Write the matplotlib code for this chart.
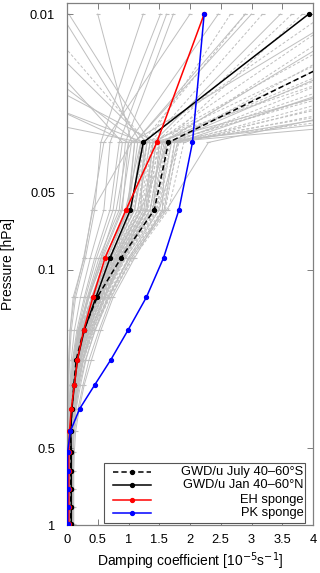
import matplotlib
matplotlib.use("Agg")
import matplotlib.pyplot as plt
from matplotlib.lines import Line2D
from matplotlib.patches import Rectangle
import matplotlib.ticker as mticker

plt.rcParams['font.family'] = ['Liberation Sans', 'DejaVu Sans']

# pressure levels [hPa]
levels = [0.01, 0.0318, 0.0584, 0.090, 0.1285, 0.173, 0.225, 0.283, 0.351,
          0.43, 0.516, 0.614, 0.724, 0.847, 0.99]

gwd_july = [5.9, 1.65, 1.42, 0.88, 0.49, 0.27, 0.15, 0.11, 0.08, 0.06, 0.06, 0.06, 0.06, 0.06, 0.06]
gwd_jan = [3.93, 1.24, 1.03, 0.70, 0.47, 0.28, 0.17, 0.12, 0.08, 0.06, 0.07, 0.07, 0.07, 0.07, 0.07]
eh_sponge = [2.23, 1.46, 0.96, 0.62, 0.42, 0.27, 0.17, 0.12, 0.07, 0.04, 0.03, 0.03, 0.03, 0.03, 0.03]
pk_sponge = [2.23, 2.04, 1.82, 1.57, 1.29, 0.99, 0.715, 0.45, 0.205, 0.054, 0.01, 0.01, 0.01, 0.01, 0.01]

gray_solid = [
    [-0.1, 1.20, 0.95, 0.62, 0.40, 0.24, 0.15, 0.10, 0.07, 0.05, 0.05, 0.05, 0.05, 0.05, 0.05],
    [-0.8, 1.30, 1.10, 0.72, 0.46, 0.30, 0.18, 0.12, 0.08, 0.06, 0.05, 0.05, 0.06, 0.06, 0.06],
    [-1.6, 1.15, 1.00, 0.66, 0.44, 0.26, 0.16, 0.11, 0.07, 0.05, 0.04, 0.04, 0.04, 0.05, 0.05],
    [-4.2, 1.25, 1.20, 0.80, 0.52, 0.33, 0.21, 0.14, 0.09, 0.07, 0.06, 0.06, 0.06, 0.07, 0.07],
    [-9.0, 1.20, 1.05, 0.70, 0.47, 0.29, 0.19, 0.13, 0.09, 0.06, 0.05, 0.05, 0.05, 0.05, 0.05],
    [0.03, 1.35, 1.15, 0.75, 0.50, 0.31, 0.20, 0.14, 0.10, 0.07, 0.06, 0.06, 0.06, 0.06, 0.06],
    [1.24, 0.55, 0.45, 0.30, 0.14, 0.07, 0.04, 0.03, 0.02, 0.02, 0.02, 0.02, 0.02, 0.02, 0.02],
    [1.52, 0.70, 0.60, 0.38, 0.22, 0.12, 0.07, 0.05, 0.03, 0.03, 0.03, 0.03, 0.03, 0.03, 0.03],
    [1.62, 0.85, 0.70, 0.45, 0.28, 0.16, 0.09, 0.06, 0.04, 0.03, 0.03, 0.03, 0.03, 0.03, 0.03],
    [1.73, 0.95, 0.85, 0.52, 0.33, 0.20, 0.12, 0.08, 0.05, 0.04, 0.04, 0.04, 0.04, 0.04, 0.04],
    [2.46, 1.00, 0.90, 0.58, 0.36, 0.21, 0.13, 0.09, 0.06, 0.05, 0.04, 0.04, 0.04, 0.04, 0.04],
    [2.90, 1.10, 0.98, 0.65, 0.40, 0.24, 0.15, 0.10, 0.07, 0.05, 0.05, 0.05, 0.05, 0.05, 0.05],
    [3.47, 1.40, 1.25, 0.82, 0.55, 0.36, 0.23, 0.16, 0.11, 0.08, 0.07, 0.07, 0.07, 0.07, 0.07],
    [5.0, 1.55, 1.35, 0.90, 0.60, 0.40, 0.26, 0.18, 0.12, 0.09, 0.08, 0.08, 0.08, 0.08, 0.08],
    [8.0, 1.80, 1.50, 1.00, 0.68, 0.46, 0.30, 0.20, 0.14, 0.10, 0.09, 0.09, 0.09, 0.09, 0.09],
    [20.0, 1.50, 1.40, 0.92, 0.62, 0.42, 0.27, 0.19, 0.13, 0.09, 0.08, 0.08, 0.08, 0.08, 0.08],
    [-2.5, 1.45, 1.30, 0.85, 0.56, 0.35, 0.22, 0.15, 0.10, 0.07, 0.06, 0.06, 0.06, 0.06, 0.06],
    [12.0, 2.30, 1.62, 1.05, 0.72, 0.52, 0.36, 0.26, 0.18, 0.12, 0.10, 0.10, 0.10, 0.10, 0.10],
    [4.5, 1.05, 0.42, 0.27, 0.12, 0.05, 0.03, 0.02, 0.01, 0.01, 0.01, 0.01, 0.01, 0.01, 0.01],
    [6.5, 1.65, 1.20, 0.78, 0.50, 0.30, 0.19, 0.13, 0.09, 0.06, 0.05, 0.05, 0.05, 0.05, 0.05],
    [2.0, 0.60, 0.41, 0.28, 0.10, 0.05, 0.03, 0.02, 0.02, 0.01, 0.01, 0.01, 0.01, 0.01, 0.01],
    [-1.0, 0.90, 0.75, 0.48, 0.30, 0.18, 0.10, 0.07, 0.05, 0.04, 0.03, 0.03, 0.03, 0.03, 0.03],
    [3.0, 1.10, 1.00, 0.60, 0.35, 0.18, 0.10, 0.06, 0.04, 0.03, 0.03, 0.03, 0.03, 0.03, 0.03],
    [25.0, 1.60, 1.55, 1.10, 0.75, 0.55, 0.40, 0.28, 0.20, 0.14, 0.12, 0.11, 0.11, 0.11, 0.11],
    [-3.5, 1.00, 0.80, 0.55, 0.35, 0.20, 0.12, 0.08, 0.05, 0.04, 0.04, 0.04, 0.04, 0.04, 0.04],
    [9.0, 1.40, 1.28, 0.88, 0.60, 0.38, 0.25, 0.17, 0.12, 0.09, 0.08, 0.08, 0.08, 0.08, 0.08],
    [0.5, 1.05, 0.88, 0.56, 0.34, 0.19, 0.11, 0.07, 0.05, 0.04, 0.04, 0.04, 0.04, 0.04, 0.04],
    [15.0, 1.75, 1.58, 1.02, 0.66, 0.45, 0.31, 0.22, 0.15, 0.11, 0.10, 0.10, 0.10, 0.10, 0.10],
]

gray_dashed = [
    [4.8, 1.60, 1.40, 0.88, 0.55, 0.30, 0.17, 0.12, 0.08, 0.06, 0.06, 0.06, 0.06, 0.06, 0.06],
    [5.5, 1.70, 1.50, 0.95, 0.60, 0.34, 0.20, 0.13, 0.09, 0.07, 0.06, 0.06, 0.06, 0.06, 0.06],
    [6.0, 1.55, 1.35, 0.85, 0.52, 0.29, 0.16, 0.11, 0.08, 0.06, 0.05, 0.05, 0.05, 0.05, 0.05],
    [7.0, 1.75, 1.55, 1.00, 0.64, 0.37, 0.22, 0.15, 0.10, 0.07, 0.06, 0.06, 0.06, 0.06, 0.06],
    [6.5, 1.50, 1.30, 0.82, 0.50, 0.27, 0.15, 0.10, 0.07, 0.05, 0.05, 0.05, 0.05, 0.05, 0.05],
    [8.5, 1.65, 1.45, 0.92, 0.58, 0.32, 0.18, 0.12, 0.08, 0.06, 0.06, 0.06, 0.06, 0.06, 0.06],
    [5.2, 1.40, 1.25, 0.78, 0.47, 0.25, 0.14, 0.09, 0.06, 0.05, 0.05, 0.05, 0.05, 0.05, 0.05],
    [9.5, 1.80, 1.60, 1.05, 0.68, 0.40, 0.24, 0.16, 0.11, 0.08, 0.07, 0.07, 0.07, 0.07, 0.07],
    [3.66, 1.45, 1.30, 0.80, 0.48, 0.26, 0.15, 0.10, 0.07, 0.05, 0.05, 0.05, 0.05, 0.05, 0.05],
    [3.83, 1.58, 1.38, 0.86, 0.53, 0.28, 0.16, 0.11, 0.07, 0.05, 0.05, 0.05, 0.05, 0.05, 0.05],
    [3.18, 1.35, 1.20, 0.75, 0.45, 0.24, 0.13, 0.09, 0.06, 0.05, 0.05, 0.05, 0.05, 0.05, 0.05],
    [2.66, 1.30, 1.15, 0.72, 0.43, 0.22, 0.12, 0.08, 0.06, 0.04, 0.04, 0.04, 0.04, 0.04, 0.04],
    [11.0, 1.70, 1.48, 0.96, 0.62, 0.36, 0.21, 0.14, 0.10, 0.07, 0.06, 0.06, 0.06, 0.06, 0.06],
    [14.0, 1.62, 1.42, 0.90, 0.57, 0.31, 0.18, 0.12, 0.08, 0.06, 0.06, 0.06, 0.06, 0.06, 0.06],
    [7.5, 1.25, 1.10, 0.70, 0.42, 0.22, 0.12, 0.08, 0.06, 0.04, 0.04, 0.04, 0.04, 0.04, 0.04],
    [-0.5, 1.30, 1.18, 0.74, 0.45, 0.23, 0.13, 0.09, 0.06, 0.05, 0.05, 0.05, 0.05, 0.05, 0.05],
    [10.0, 1.90, 1.65, 1.08, 0.70, 0.44, 0.27, 0.18, 0.12, 0.08, 0.07, 0.07, 0.07, 0.07, 0.07],
    [6.8, 1.48, 1.32, 0.84, 0.51, 0.28, 0.16, 0.10, 0.07, 0.05, 0.05, 0.05, 0.05, 0.05, 0.05],
    [4.2, 1.20, 1.08, 0.68, 0.40, 0.20, 0.11, 0.07, 0.05, 0.04, 0.04, 0.04, 0.04, 0.04, 0.04],
    [9.0, 1.58, 1.40, 0.90, 0.56, 0.32, 0.19, 0.13, 0.09, 0.07, 0.06, 0.06, 0.06, 0.06, 0.06],
    [12.5, 1.82, 1.58, 1.02, 0.66, 0.42, 0.26, 0.17, 0.12, 0.08, 0.07, 0.07, 0.07, 0.07, 0.07],
    [5.8, 1.38, 1.22, 0.76, 0.46, 0.25, 0.14, 0.09, 0.06, 0.05, 0.05, 0.05, 0.05, 0.05, 0.05],
    [18.0, 1.52, 1.36, 0.86, 0.54, 0.30, 0.17, 0.11, 0.08, 0.06, 0.06, 0.06, 0.06, 0.06, 0.06],
    [7.8, 1.68, 1.46, 0.94, 0.58, 0.33, 0.19, 0.13, 0.09, 0.06, 0.06, 0.06, 0.06, 0.06, 0.06],
    [4.5, 1.44, 1.28, 0.80, 0.48, 0.26, 0.15, 0.10, 0.07, 0.05, 0.05, 0.05, 0.05, 0.05, 0.05],
    [2.9, 1.22, 1.10, 0.68, 0.41, 0.21, 0.12, 0.08, 0.06, 0.04, 0.04, 0.04, 0.04, 0.04, 0.04],
]

legend_labels = ['GWD/u July 40–60°S', 'GWD/u Jan 40–60°N', 'EH sponge', 'PK sponge']
xticks = [0, 0.5, 1, 1.5, 2, 2.5, 3, 3.5, 4]
yticks = [0.01, 0.05, 0.1, 0.5, 1]

W, H = 320, 573
fig = plt.figure(figsize=(W / 100, H / 100), dpi=100)
ax = fig.add_axes([67 / W, 48 / H, 246 / W, 522 / H])

gcol = '#bfbfbf'
for prof in gray_solid:
    ax.plot(prof, levels, color=gcol, lw=0.7, marker='_', ms=3, mew=0.8, mec=gcol, zorder=1)
for prof in gray_dashed:
    ax.plot(prof, levels, color=gcol, lw=0.7, ls=(0, (3, 2)), marker='_', ms=3, mew=0.8, mec=gcol, zorder=1)

styles = [
    (gwd_july, 'black', (0, (3.5, 2))),
    (gwd_jan, 'black', '-'),
    (eh_sponge, '#ff0000', '-'),
    (pk_sponge, '#0000ff', '-'),
]
for i, (vals, c, ls) in enumerate(styles):
    ax.plot(vals, levels, color=c, ls=ls, lw=1.1, marker='o', ms=2.8, mec=c, mfc=c, zorder=3 + i)

ax.set_yscale('log')
ax.set_ylim(1.0, 0.00905)
ax.set_xlim(0, 4)
ax.set_xticks(xticks)
ax.xaxis.set_major_formatter(mticker.FormatStrFormatter('%g'))
ax.set_yticks(yticks)
ax.yaxis.set_major_formatter(mticker.FuncFormatter(lambda v, p: '%g' % v))
ax.yaxis.set_minor_locator(mticker.NullLocator())
ax.tick_params(direction='in', top=True, right=True, length=4, width=0.7,
               color='#808080', labelsize=9.3)
ax.tick_params(axis='y', pad=8.5)
ax.tick_params(axis='x', pad=6.5)
for s in ax.spines.values():
    s.set_color('#808080')
    s.set_linewidth(0.9)

ax.set_ylabel('Pressure [hPa]', fontsize=10, labelpad=11)
ax.set_xlabel('Damping coefficient [10$^{-5}$s$^{-1}$]', fontsize=10, labelpad=3)

# legend box (gnuplot style: sample left, text right-aligned)
box = Rectangle((0.150, 0.004), 0.817, 0.114, transform=ax.transAxes,
                facecolor='white', edgecolor='#555555', lw=0.8, zorder=10)
ax.add_patch(box)
rows = [0.101, 0.076, 0.048, 0.023]
for (vals, c, ls), lab, yy in zip(styles, legend_labels, rows):
    ax.add_line(Line2D([0.187, 0.340], [yy, yy], transform=ax.transAxes, color=c, ls=ls,
                       lw=1.1, zorder=11))
    ax.add_line(Line2D([0.263], [yy], transform=ax.transAxes, color=c, marker='o', ms=2.8,
                       ls='none', zorder=12))
    ax.text(0.962, yy, lab, transform=ax.transAxes, ha='right', va='center',
            fontsize=9.3, zorder=12)

fig.savefig('out.png', dpi=100)
